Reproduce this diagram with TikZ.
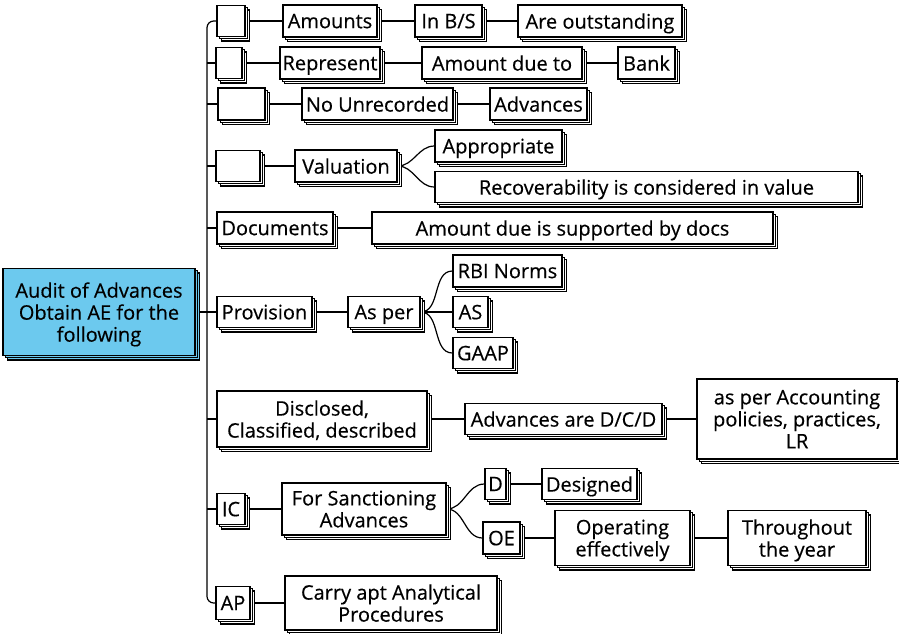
\documentclass[tikz,border=0pt]{standalone}
\usepackage{fontspec}
\setmainfont{Open Sans}[FakeBold=0.4]
\usetikzlibrary{shadows,backgrounds}

\definecolor{rootblue}{RGB}{108,201,238}

\tikzset{
  box/.style={draw=black, line width=0.9pt, fill=white, inner sep=0.5pt, align=center,
    text depth=0pt,
    copy shadow={shadow xshift=3.4pt, shadow yshift=-3.4pt},
    copy shadow={shadow xshift=1.7pt, shadow yshift=-1.7pt}},
  sz/.style 2 args={minimum width=#1*0.75pt, minimum height=#2*0.75pt},
  link/.style={line width=0.9pt}
}

\begin{document}
\begin{tikzpicture}[x=0.75pt, y=-0.75pt]
\useasboundingbox (0,0) rectangle (899,633);

\fontsize{15}{16.5}\selectfont
\node [box, fill=rootblue, sz={192}{87}] (root) at (99,312) {Audit of Advances\\Obtain AE for the\\following};
\coordinate (trunk) at (207,312);

% row 1
\node [box, sz={28}{31}] (e1) at (231,21) {};
\node [box, sz={94}{32}] (amt) at (330,21) {Amounts};
\node [box, sz={67}{32}] (inbs) at (448.5,21) {In B/S};
\node [box, sz={164}{32}] (outst) at (600,21) {Are outstanding};

% row 2
\node [box, sz={26}{31}] (e2) at (229,63) {};
\node [box, sz={100}{32}] (rep) at (330,63) {Represent};
\node [box, sz={160}{32}] (amtdue) at (502,63) {Amount due to};
\node [box, sz={57}{32}] (bank) at (646.5,63) {Bank};

% row 3
\node [box, sz={47}{32}] (e3) at (241.5,104) {};
\node [box, sz={151}{32}] (nounrec) at (377.5,104) {No Unrecorded};
\node [box, sz={97}{32}] (adv) at (538.5,104) {Advances};

% row 4
\node [box, sz={44}{31}] (e4) at (238,166) {};
\node [box, sz={102}{32}] (valu) at (346,166) {Valuation};
\node [box, sz={127}{32}] (approp) at (498.5,146) {Appropriate};
\node [box, sz={423}{31}] (recov) at (646.5,187) {Recoverability is considered in value};

% row 5
\node [box, sz={116}{32}] (docs) at (275,228) {Documents};
\node [box, sz={401}{32}] (amtsup) at (572.5,228) {Amount due is supported by docs};

% row 6
\node [box, sz={95}{31}] (prov) at (264.5,312) {Provision};
\node [box, sz={72}{31}] (asper) at (384,312) {As per};
\node [box, sz={109}{32}] (rbi) at (507.5,271) {RBI Norms};
\node [box, sz={35}{31}] (asstd) at (470.5,312) {AS};
\node [box, sz={60}{31}] (gaap) at (483,353) {GAAP};

% row 7
\node [box, sz={210}{56}] (discl) at (322,419) {Disclosed,\\Classified, described};
\node [box, sz={197}{31}] (advdcd) at (563.5,419) {Advances are D/C/D};
\node [box, sz={200}{80}] (aspol) at (797,419) {as per Accounting\\policies, practices,\\LR};

% row 8
\node [box, sz={28}{31}] (ic) at (231,509) {IC};
\node [box, sz={164}{52}] (sanct) at (364,509) {For Sanctioning\\Advances};
\node [box, sz={21}{31}] (d) at (495.5,484) {D};
\node [box, sz={95}{31}] (desig) at (589.5,484) {Designed};
\node [box, sz={37}{32}] (oe) at (501.5,538) {OE};
\node [box, sz={135}{55}] (opeff) at (622.5,538) {Operating\\effectively};
\node [box, sz={138}{55}] (thru) at (797,538) {Throughout\\the year};

% row 9
\node [box, sz={34}{33}] (ap) at (233,603) {AP};
\node [box, sz={212}{54}] (carry) at (391,603) {Carry apt Analytical\\Procedures};

\begin{scope}[on background layer]
\draw [link] (root) -- (trunk);
\draw [link, rounded corners=5pt] (e1.west) -| (trunk) |- (ap.west);
\foreach \n in {e2,e3,e4,docs,prov,discl,ic}
  \draw [link] (trunk |- \n.west) -- (\n.west);

\foreach \a/\b in {e1/amt, amt/inbs, inbs/outst, e2/rep, rep/amtdue, amtdue/bank,
  e3/nounrec, nounrec/adv, e4/valu, docs/amtsup, prov/asper, discl/advdcd,
  advdcd/aspol, ic/sanct, d/desig, oe/opeff, opeff/thru, ap/carry}
  \draw [link] (\a) -- (\b);

\foreach \a/\b in {valu/approp, valu/recov, asper/rbi, asper/asstd, asper/gaap,
  sanct/d, sanct/oe}
  \draw [link] (\a.east) to [out=0, in=180] (\b.west);
\end{scope}

\end{tikzpicture}
\end{document}
